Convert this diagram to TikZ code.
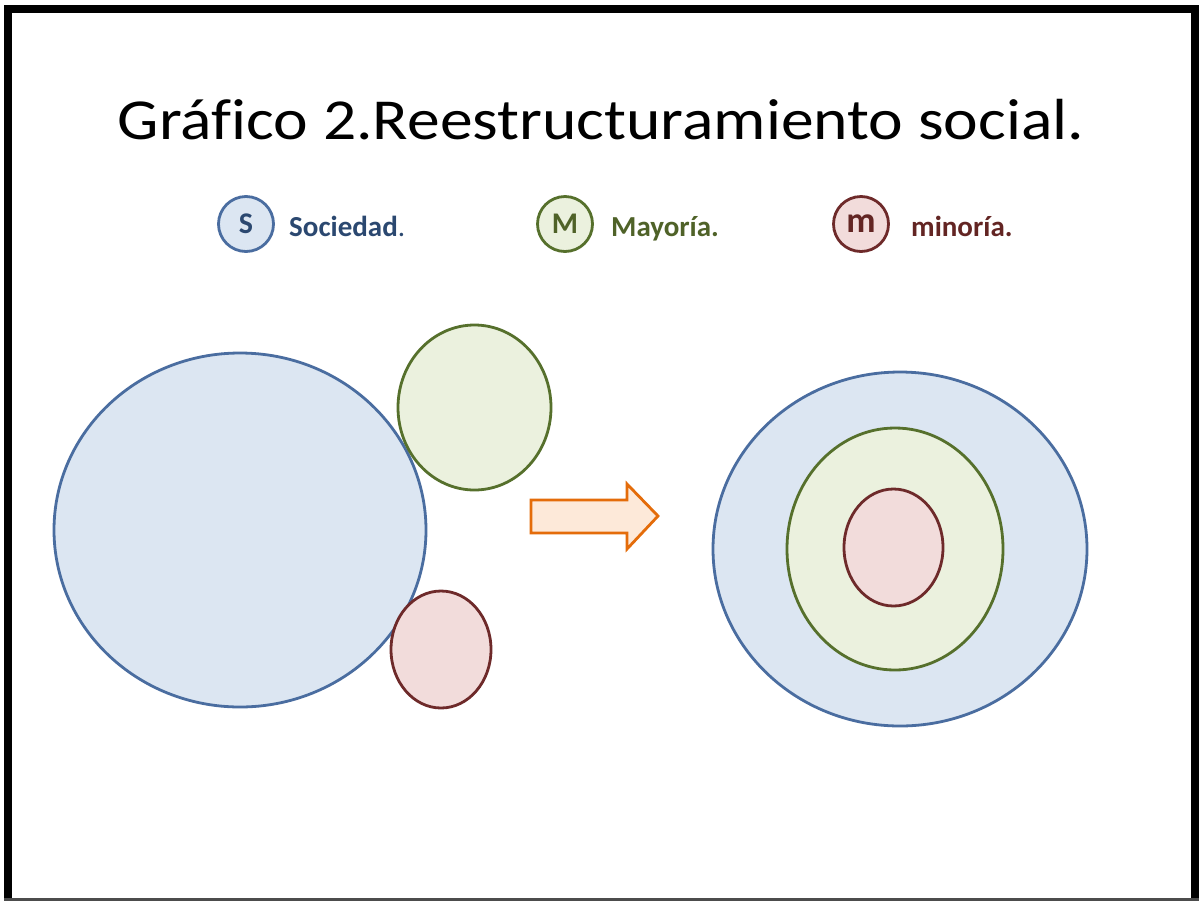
\documentclass[tikz,border=0pt]{standalone}
\usepackage{fontspec}
\setmainfont{Carlito}
\definecolor{sfill}{HTML}{DCE6F2}
\definecolor{sdraw}{HTML}{4A6DA0}
\definecolor{stext}{HTML}{2B4870}
\definecolor{mfill}{HTML}{EBF1DE}
\definecolor{mdraw}{HTML}{56702C}
\definecolor{mtext}{HTML}{4F6228}
\definecolor{nfill}{HTML}{F2DCDB}
\definecolor{ndraw}{HTML}{6E2A2A}
\definecolor{ntext}{HTML}{632523}
\definecolor{afill}{HTML}{FDE9D9}
\definecolor{adraw}{HTML}{E46C0A}
\begin{document}
\begin{tikzpicture}[x=1pt,y=-1pt,
  soc/.style={fill=sfill,draw=sdraw,line width=2.8pt},
  may/.style={fill=mfill,draw=mdraw,line width=2.8pt},
  mino/.style={fill=nfill,draw=ndraw,line width=2.8pt},
  legc/.style={circle,minimum size=55pt,inner sep=0pt,line width=2.8pt,font=\bfseries\fontsize{30}{32}\selectfont},
  legt/.style={anchor=base west,inner sep=0pt,font=\bfseries\fontsize{29}{31}\selectfont}]
\useasboundingbox (0,0) rectangle (1201,900);
\fill[white] (0,0) rectangle (1201,900);
% frame
\draw[black,line width=8pt] (8,900.5) -- (8,8.5) -- (1195,8.5) -- (1195,900.5);
\draw[black!70,line width=3pt] (4,899) -- (1199,899);
% title
\node[font=\fontsize{58}{64}\selectfont,inner sep=0pt,anchor=base] (title) at (601,139)
  {\addfontfeatures{Ligatures=NoCommon}\scalebox{1.13}[1]{Gráfico 2.Reestructuramiento social.}};
% legend
\node[legc,fill=sfill,draw=sdraw,text=stext] (ls) at (246,224) {S};
\node[legt,text=stext] (lst) at (289,236) {Sociedad\textmd{.}};
\node[legc,fill=mfill,draw=mdraw,text=mtext] (lm) at (565,224) {M};
\node[legt,text=mtext] (lmt) at (611,236) {Mayoría.};
\node[legc,fill=nfill,draw=ndraw,text=ntext,font=\bfseries\fontsize{36}{38}\selectfont] (ln) at (861,224) {m};
\node[legt,text=ntext] (lnt) at (911,236) {minoría.};
% left group
\draw[soc] (240,530) ellipse [x radius=186,y radius=177];
\draw[may] (474.5,407.5) ellipse [x radius=76.5,y radius=82.5];
\draw[mino] (441,649.5) ellipse [x radius=50,y radius=58.5];
% arrow
\draw[fill=afill,draw=adraw,line width=2.8pt,line join=miter]
  (531,500) -- (627,500) -- (627,484) -- (658,516) -- (627,549) -- (627,533) -- (531,533) -- cycle;
% right group
\draw[soc] (900,549) ellipse [x radius=187,y radius=177];
\draw[may] (895,549) ellipse [x radius=108,y radius=121];
\draw[mino] (893.5,547.5) ellipse [x radius=49.5,y radius=58.5];
\end{tikzpicture}
\end{document}
